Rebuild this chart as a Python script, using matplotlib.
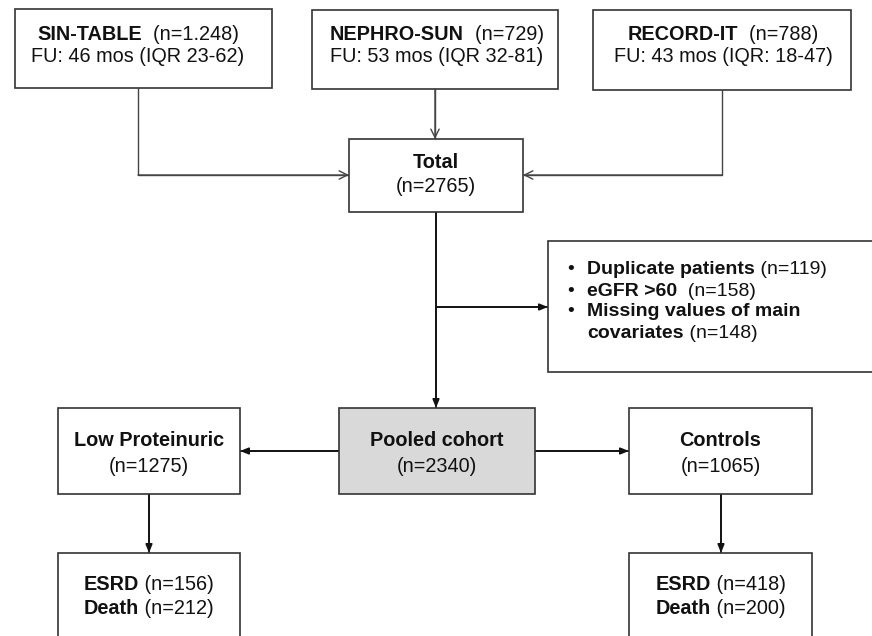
import matplotlib
matplotlib.use("Agg")
import matplotlib.pyplot as plt
from matplotlib.patches import Rectangle

# ---- data (texts of the flow chart) ----
source_names = ["SIN-TABLE", "NEPHRO-SUN", "RECORD-IT"]
source_n = ["(n=1.248)", "(n=729)", "(n=788)"]
source_fu = ["FU: 46 mos (IQR 23-62)", "FU: 53 mos (IQR 32-81)", "FU: 43 mos (IQR: 18-47)"]
total_label = ["Total", "(n=2765)"]
excl_bold = ["Duplicate patients", "eGFR >60", "Missing values of main", "covariates"]
excl_n = ["(n=119)", " (n=158)", "", "(n=148)"]
pooled_label = ["Pooled cohort", "(n=2340)"]
group_names = ["Low Proteinuric", "Controls"]
group_n = ["(n=1275)", "(n=1065)"]
outcome_esrd = ["(n=156)", "(n=418)"]
outcome_death = ["(n=212)", "(n=200)"]

W, H = 872, 636
fig = plt.figure(figsize=(W / 100, H / 100), dpi=100)
ax = fig.add_axes([0, 0, 1, 1])
ax.set_xlim(0, W)
ax.set_ylim(H, 0)
ax.axis("off")
renderer = fig.canvas.get_renderer()

FONT = ["Liberation Sans", "DejaVu Sans"]
TOP = 14.3
EXC = 14.0
LOW = 14.3


def box(x0, y0, x1, y1, fc="white", ec="#333333", lw=1.2):
    ax.add_patch(Rectangle((x0, y0), x1 - x0, y1 - y0, fc=fc, ec=ec, lw=lw, zorder=2))


def rich(x, y, segs, size=TOP, ha="center", family=FONT):
    """segs: list of (text, bold)"""
    arts = []
    widths = []
    for t, b in segs:
        a = ax.text(0, y, t, fontsize=size, fontweight="bold" if b else "normal",
                    family=family, va="center", ha="left", zorder=3, color="#111111")
        bb = a.get_window_extent(renderer=renderer)
        arts.append(a)
        widths.append(bb.width)
    total = sum(widths)
    start = x - total / 2 if ha == "center" else x
    for a, w in zip(arts, widths):
        a.set_x(start)
        start += w


def line(pts, color="#333333", lw=1.2, head=None):
    xs = [p[0] for p in pts]
    ys = [p[1] for p in pts]
    ax.plot(xs, ys, color=color, lw=lw, zorder=1, solid_capstyle="butt")
    if head == "open":
        ax.annotate("", xy=pts[-1], xytext=pts[-2],
                    arrowprops=dict(arrowstyle="->,head_length=0.6,head_width=0.3",
                                    color=color, lw=lw, shrinkA=0, shrinkB=0), zorder=1)
    elif head == "filled":
        ax.annotate("", xy=pts[-1], xytext=pts[-2],
                    arrowprops=dict(arrowstyle="-|>,head_length=0.5,head_width=0.2",
                                    color=color, lw=lw, shrinkA=0, shrinkB=0), zorder=1)


# ---- top source boxes ----
src_boxes = [(15, 9, 272, 88), (312, 10, 558, 89), (593, 10, 851, 90)]
src_cx = [138, 437, 723]
for (x0, y0, x1, y1), cx, nm, n, fu in zip(src_boxes, src_cx, source_names, source_n, source_fu):
    box(x0, y0, x1, y1)
    rich(cx, 34, [(nm, True), ("  " + n, False)])
    rich(cx, 56, [(fu, False)])

# total box
box(349, 139, 523, 212)
rich(436, 163, [(total_label[0], True)])
rich(436, 187, [(total_label[1], False)])

gray = "#444444"
line([(138, 88), (138, 175), (349, 175)], color=gray, lw=1.0, head="open")
line([(435, 89), (435, 139)], color=gray, lw=1.0, head="open")
line([(722, 90), (722, 175), (523, 175)], color=gray, lw=1.0, head="open")

# exclusion
box(548, 241, 880, 372)
ey = [270, 291, 312, 333]
for i, (b, n) in enumerate(zip(excl_bold, excl_n)):
    if i != 3:
        rich(567, ey[i], [("•", False)], size=EXC, ha="left")
    rich(587, ey[i], [(b, True), ((" " + n) if n else "", False)], size=EXC, ha="left")

line([(436, 212), (436, 408)], color="#111111", lw=1.2, head="filled")
line([(436, 307), (548, 307)], color="#111111", lw=1.2, head="filled")

# pooled
box(339, 408, 535, 494, fc="#d9d9d9")
rich(437, 441, [(pooled_label[0], True)], size=LOW)
rich(437, 466, [(pooled_label[1], False)], size=LOW)

grp_boxes = [(58, 408, 240, 494), (629, 408, 812, 494)]
for (x0, y0, x1, y1), nm, n in zip(grp_boxes, group_names, group_n):
    cx = (x0 + x1) / 2
    box(x0, y0, x1, y1)
    rich(cx, 441, [(nm, True)], size=LOW)
    rich(cx, 466, [(n, False)], size=LOW)

line([(339, 451), (240, 451)], color="#111111", lw=1.2, head="filled")
line([(535, 451), (629, 451)], color="#111111", lw=1.2, head="filled")

# outcomes
out_boxes = [(58, 553, 240, 660), (629, 553, 812, 660)]
for (x0, y0, x1, y1), e, d in zip(out_boxes, outcome_esrd, outcome_death):
    cx = (x0 + x1) / 2
    box(x0, y0, x1, y1)
    rich(cx, 585, [("ESRD", True), (" " + e, False)], size=LOW)
    rich(cx, 609, [("Death", True), (" " + d, False)], size=LOW)

line([(149, 494), (149, 553)], color="#111111", lw=1.2, head="filled")
line([(721, 494), (721, 553)], color="#111111", lw=1.2, head="filled")

fig.savefig("out.png", dpi=100, facecolor="white")
